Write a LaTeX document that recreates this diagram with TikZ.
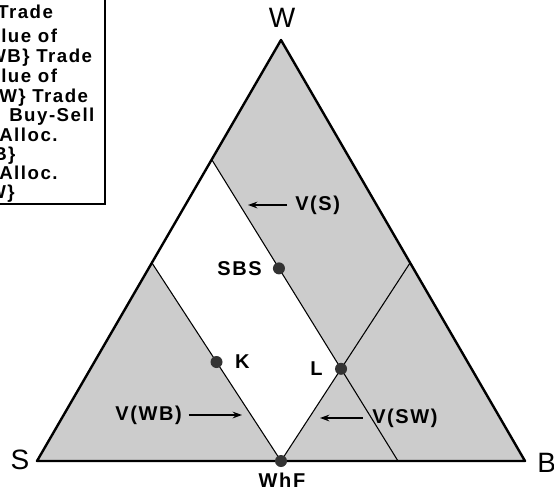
\documentclass[tikz,border=0pt]{standalone}
\usepackage{fontspec}
\setmainfont{Liberation Sans}[LetterSpace=8]
\usetikzlibrary{arrows.meta, calc, positioning}

\begin{document}
\begin{tikzpicture}[x=0.75pt, y=-0.75pt,
  lbl/.style={font=\fontsize{15}{18}\selectfont\bfseries, inner sep=0pt},
  corner/.style={font=\fontsize{21}{24}\selectfont, inner sep=0pt},
  leg/.style={font=\fontsize{14}{16}\selectfont\bfseries, inner sep=0pt, anchor=base west},
  dot/.style={circle, fill=black!80, inner sep=0pt, minimum size=9pt},
  shade/.style={fill=black!20},
  vec/.style={line width=2pt, -{Stealth[length=7pt, width=5pt]}}]
  \useasboundingbox (0,0) rectangle (554,497);

  % Corners and cut points
  \coordinate (W) at (281,40);
  \coordinate (S) at (37,461);
  \coordinate (B) at (525,461);
  \coordinate (WhF) at (281,461);
  \coordinate (Lft) at (152,263);
  \coordinate (Rgt) at (410,263);
  \coordinate (Top) at (212,160);
  \coordinate (Bot) at (398,461);
  \coordinate (L) at (intersection of Top--Bot and WhF--Rgt);

  % Shaded triangle, white core
  \fill[shade] (S) -- (W) -- (B) -- cycle;
  \fill[white] (WhF) -- (Lft) -- (Top) -- (L) -- cycle;

  % Inner lines
  \draw[line width=0.8pt] (WhF) -- (Lft);
  \draw[line width=0.8pt] (WhF) -- (Rgt);
  \draw[line width=0.8pt] (Top) -- (Bot);

  % Outer triangle
  \draw[line width=1.8pt, line join=round] (S) -- (W) -- (B) -- cycle;

  % Points
  \node[dot] (sbs) at ($(Top)!0.36!(Bot)$) {};
  \node[dot] (k) at ($(WhF)!0.5!(Lft)$) {};
  \node[dot] (l) at (L) {};
  \node[dot] (whf) at (WhF) {};

  \node[lbl, left=8pt of sbs] (sbslab) {SBS};
  \node[lbl, right=9pt of k] (klab) {K};
  \node[lbl, left=9pt of l] (llab) {L};
  \node[lbl] (whflab) at (282,480) {WhF};

  % Corner labels
  \node[corner] (wlab) at (282,18) {W};
  \node[corner] (slab) at (20,460) {S};
  \node[corner, anchor=west] (blab) at (537,463) {B};

  % Value arrows
  \node[lbl, anchor=west] (vs) at (295,205) {V(S)};
  \coordinate (vsEnd) at (248,205);
  \draw[vec, shorten <=6pt] (vs) -- (vsEnd);

  \node[lbl, anchor=east] (vwb) at (182,415) {V(WB)};
  \coordinate (vwbEnd) at (242,415);
  \draw[vec, shorten <=5pt] (vwb) -- (vwbEnd);

  \node[lbl, anchor=west] (vsw) at (372,418) {V(SW)};
  \coordinate (vswEnd) at (320,418);
  \draw[vec, shorten <=7pt] (vsw) -- (vswEnd);

  % Legend box (cut by the frame)
  \draw[line width=0.8pt] (105,-5) -- (105,204) -- (-5,204);
  \node[leg] (leg1) at (-3,18) {Trade};
  \node[leg] (leg2) at (1,42) {lue of};
  \node[leg] (leg3) at (-12,62) {WB\} Trade};
  \node[leg] (leg4) at (1,82) {lue of};
  \node[leg] (leg5) at (-1,102) {W\} Trade};
  \node[leg] (leg6) at (9,121) {Buy-Sell};
  \node[leg] (leg7) at (-1,141) {Alloc.};
  \node[leg] (leg8) at (-7,160) {B\}};
  \node[leg] (leg9) at (-1,179) {Alloc.};
  \node[leg] (leg10) at (-12,198) {W\}};
\end{tikzpicture}
\end{document}
